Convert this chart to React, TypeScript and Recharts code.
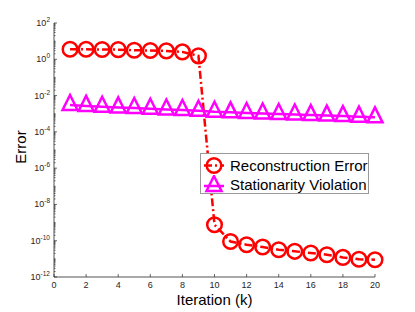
import { LineChart, Line, XAxis, YAxis, Legend, Label } from "recharts";

const iterations = [1, 2, 3, 4, 5, 6, 7, 8, 9, 10, 11, 12, 13, 14, 15, 16, 17, 18, 19, 20];
const reconstructionError = [
  3.6, 3.55, 3.45, 3.4, 3.15, 3.05, 2.9, 2.55, 1.55, 7.6e-10,
  9e-11, 6e-11, 4.5e-11, 3.2e-11, 2.6e-11, 2.1e-11, 1.7e-11, 1.2e-11, 9.5e-12, 9e-12,
];
const stationarityViolation = [
  3.0e-3, 2.7e-3, 2.44e-3, 2.23e-3, 2.05e-3, 1.87e-3, 1.71e-3, 1.59e-3, 1.45e-3, 1.28e-3,
  1.19e-3, 1.1e-3, 1.02e-3, 9.6e-4, 9.0e-4, 8.4e-4, 7.9e-4, 7.4e-4, 6.9e-4, 6.3e-4,
];
const xTicks = [0, 2, 4, 6, 8, 10, 12, 14, 16, 18, 20];
const yExponents = [2, 0, -2, -4, -6, -8, -10, -12];

const data = iterations.map((k, i) => ({
  k,
  recon: reconstructionError[i],
  stat: stationarityViolation[i],
}));

// log axis ticks: labelled decades plus the minor ones in between
const yTicks: number[] = [];
for (let e = -12; e < 2; e++) {
  for (let m = 1; m < 10; m++) yTicks.push(m * Math.pow(10, e));
}
yTicks.push(100);

const FONT = "'Liberation Sans', Arial, Helvetica, sans-serif";
const AXIS = "#262626";
const RED = "#ff0000";
const MAGENTA = "#ff00ff";
const OFF = 8; // default tickSize + tickMargin

function majorExp(v: number) {
  const e = Math.log10(v);
  const r = Math.round(e);
  if (Math.abs(e - r) > 1e-6) return null;
  return yExponents.includes(r) ? r : null;
}

function LeftTick(props: any) {
  const { x, y, payload } = props;
  const ax = x + OFF;
  const exp = majorExp(payload.value);
  if (exp === null) {
    return <line x1={ax} x2={ax + 1.5} y1={y} y2={y} stroke={AXIS} strokeWidth={0.7} />;
  }
  return (
    <g>
      <line x1={ax} x2={ax + 3} y1={y} y2={y} stroke={AXIS} strokeWidth={0.7} />
      <text x={ax - 4} y={y + 3} textAnchor="end" fontSize={9} fontFamily={FONT} fill={AXIS}>
        10<tspan dy={-4} fontSize={6.5}>{exp}</tspan>
      </text>
    </g>
  );
}

function RightTick(props: any) {
  const { x, y, payload } = props;
  const ax = x - OFF;
  const major = majorExp(payload.value) !== null;
  return <line x1={ax} x2={ax - (major ? 3 : 1.5)} y1={y} y2={y} stroke={AXIS} strokeWidth={0.7} />;
}

function BottomTick(props: any) {
  const { x, y, payload } = props;
  const ay = y - OFF;
  return (
    <g>
      <line x1={x} x2={x} y1={ay} y2={ay - 3} stroke={AXIS} strokeWidth={0.7} />
      <text x={x} y={ay + 11} textAnchor="middle" fontSize={9} fontFamily={FONT} fill={AXIS}>
        {payload.value}
      </text>
    </g>
  );
}

function TopTick(props: any) {
  const { x, y } = props;
  const ay = y + OFF;
  return <line x1={x} x2={x} y1={ay} y2={ay + 3} stroke={AXIS} strokeWidth={0.7} />;
}

function circleMarker(props: any) {
  const { cx, cy, index } = props;
  return <circle key={`c-${index}`} cx={cx} cy={cy} r={7.3} fill="none" stroke={RED} strokeWidth={2.5} />;
}

function triangleMarker(props: any) {
  const { cx, cy, index } = props;
  return (
    <path
      key={`t-${index}`}
      d={`M${cx},${cy - 10}L${cx + 7.5},${cy + 5}L${cx - 7.5},${cy + 5}Z`}
      fill="none"
      stroke={MAGENTA}
      strokeWidth={2.5}
      strokeLinejoin="miter"
    />
  );
}

function LegendBox() {
  const row = (top: number, label: string, kind: "c" | "t") => (
    <div style={{ position: "absolute", left: 0, top, height: 19, width: "100%" }}>
      <svg width={28} height={19} style={{ position: "absolute", left: 0, top: 0 }}>
        <line
          x1={3}
          x2={23}
          y1={kind === "c" ? 9.5 : 11}
          y2={kind === "c" ? 9.5 : 11}
          stroke={kind === "c" ? RED : MAGENTA}
          strokeWidth={2.5}
          strokeDasharray={kind === "c" ? "8 3 2 3" : undefined}
        />
        {kind === "c"
          ? circleMarker({ cx: 13, cy: 9.5, index: 0 })
          : triangleMarker({ cx: 13, cy: 11, index: 0 })}
      </svg>
      <span
        style={{
          position: "absolute",
          left: 29,
          top: 0,
          lineHeight: "19px",
          fontSize: 15,
          fontFamily: FONT,
          color: "#000",
          whiteSpace: "nowrap",
        }}
      >
        {label}
      </span>
    </div>
  );
  return (
    <div
      style={{
        position: "relative",
        width: 169,
        height: 41,
        boxSizing: "border-box",
        border: "0.8px solid #999",
        background: "#fff",
      }}
    >
      {row(2, "Reconstruction Error", "c")}
      {row(21, "Stationarity Violation", "t")}
    </div>
  );
}

export default function App() {
  return (
    <div style={{ position: "absolute", left: 0, top: 0, width: 415, height: 312, background: "#fff" }}>
      <LineChart width={415} height={312} data={data} margin={{ top: 23, right: 40, bottom: 0, left: 0 }}>
        <XAxis
          xAxisId="b"
          dataKey="k"
          type="number"
          domain={[0, 20]}
          ticks={xTicks}
          interval={0}
          height={35}
          tickLine={false}
          axisLine={{ stroke: AXIS, strokeWidth: 0.8 }}
          tick={<BottomTick />}
        >
          <Label
            content={({ viewBox }: any) => (
              <text
                x={viewBox.x + viewBox.width / 2}
                y={viewBox.y + 28}
                textAnchor="middle"
                fontSize={15}
                fontFamily={FONT}
                fill="#000"
              >
                Iteration (k)
              </text>
            )}
          />
        </XAxis>
        <XAxis
          xAxisId="t"
          orientation="top"
          dataKey="k"
          type="number"
          domain={[0, 20]}
          ticks={xTicks}
          interval={0}
          height={0}
          tickLine={false}
          axisLine={{ stroke: AXIS, strokeWidth: 0.8 }}
          tick={<TopTick />}
        />
        <YAxis
          yAxisId="l"
          type="number"
          scale="log"
          domain={[1e-12, 1e2]}
          allowDataOverflow
          ticks={yTicks}
          interval={0}
          width={54}
          tickLine={false}
          axisLine={{ stroke: AXIS, strokeWidth: 0.8 }}
          tick={<LeftTick />}
        >
          <Label
            content={({ viewBox }: any) => {
              const cx = 26;
              const cy = viewBox.y + viewBox.height / 2 - 3;
              return (
                <text
                  x={cx}
                  y={cy}
                  transform={`rotate(-90, ${cx}, ${cy})`}
                  textAnchor="middle"
                  fontSize={15}
                  fontFamily={FONT}
                  fill="#000"
                >
                  Error
                </text>
              );
            }}
          />
        </YAxis>
        <YAxis
          yAxisId="r"
          orientation="right"
          type="number"
          scale="log"
          domain={[1e-12, 1e2]}
          allowDataOverflow
          ticks={yTicks}
          interval={0}
          width={0}
          tickLine={false}
          axisLine={{ stroke: AXIS, strokeWidth: 0.8 }}
          tick={<RightTick />}
        />
        <Line
          xAxisId="b"
          yAxisId="l"
          type="linear"
          dataKey="stat"
          stroke={MAGENTA}
          strokeWidth={2.5}
          dot={triangleMarker}
          activeDot={false}
          isAnimationActive={false}
        />
        <Line
          xAxisId="b"
          yAxisId="l"
          type="linear"
          dataKey="recon"
          stroke={RED}
          strokeWidth={2.5}
          strokeDasharray="8 3 2 3"
          dot={circleMarker}
          activeDot={false}
          isAnimationActive={false}
        />
        <Legend
          layout="horizontal"
          align="center"
          verticalAlign="middle"
          content={() => <LegendBox />}
          wrapperStyle={{ position: "absolute", left: 200, top: 153, width: 169, height: 41, bottom: "auto" }}
        />
      </LineChart>
    </div>
  );
}
